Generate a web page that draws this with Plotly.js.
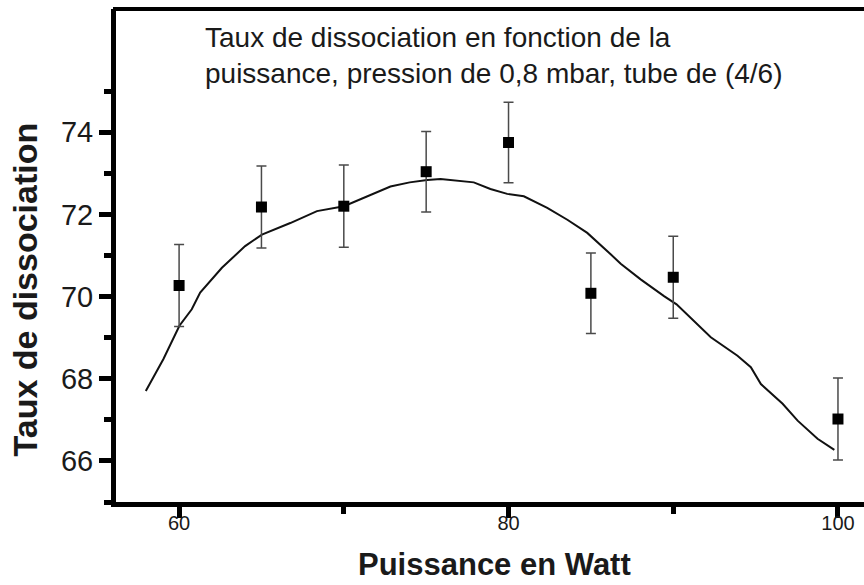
<!DOCTYPE html>
<html>
<head>
<meta charset="utf-8">
<script src="https://cdn.plot.ly/plotly-3.0.1.min.js"></script>
<style>html,body{margin:0;padding:0;background:#fff;}#chart{width:864px;height:585px;}</style>
</head>
<body>
<div id="chart"></div>
<script>
// Measured points (power in W, dissociation rate)
var powerW = [60, 65, 70, 75, 80, 85, 90, 100];
var tauxDissociation = [70.27, 72.18, 72.2, 73.04, 73.75, 70.08, 70.47, 67.02];
var errTaux = [1.0, 1.0, 1.0, 0.98, 0.98, 0.98, 1.0, 1.0];

// Fitted curve
var fitX = [57.98, 59.05, 60.02, 60.77, 61.28, 62.6, 64.01, 65.03, 66.75, 68.37, 70.01, 71.2, 72.83, 74.0, 75.06, 75.87, 77.89, 78.9, 79.92, 80.93, 82.35, 83.57, 84.78, 86.2, 86.81, 88.02, 88.83, 89.44, 90.2, 91.67, 92.28, 93.9, 94.71, 95.32, 96.64, 97.55, 98.76, 99.78];
var fitY = [67.70, 68.48, 69.29, 69.69, 70.10, 70.70, 71.23, 71.51, 71.79, 72.08, 72.20, 72.40, 72.68, 72.78, 72.84, 72.86, 72.78, 72.62, 72.50, 72.44, 72.16, 71.87, 71.55, 71.03, 70.80, 70.42, 70.18, 70.01, 69.81, 69.25, 69.01, 68.56, 68.28, 67.87, 67.39, 66.98, 66.54, 66.27];

// Axis ticks
var xMajorTicks = [60, 80, 100];
var xMinorTicks = [70, 90];
var yMajorTicks = [66, 68, 70, 72, 74];
var yMinorTicks = [65, 67, 69, 71, 73, 75];

var titleText = "Taux de dissociation en fonction de la<br>puissance, pression de 0,8 mbar, tube de (4/6)";
var xTitle = "Puissance en Watt";
var yTitle = "Taux de dissociation";

var FONT = "Liberation Sans, Arial, Helvetica, sans-serif";

var traces = [
  {
    x: fitX, y: fitY, type: "scatter", mode: "lines",
    line: {color: "#111", width: 2}, hoverinfo: "skip", showlegend: false
  },
  {
    x: powerW, y: tauxDissociation, type: "scatter", mode: "markers",
    marker: {symbol: "square", size: 11, color: "#000"},
    error_y: {type: "data", array: errTaux, visible: true, color: "#4a4a4a", thickness: 1.5, width: 5},
    showlegend: false
  }
];

var layout = {
  width: 864, height: 585,
  margin: {l: 116, r: 0, t: 9, b: 83, pad: 0},
  paper_bgcolor: "#fff", plot_bgcolor: "#fff",
  font: {family: FONT, color: "#1a1a1a"},
  showlegend: false,
  xaxis: {
    range: [56.17, 101.58], showgrid: false, zeroline: false,
    showline: true, linecolor: "#000", linewidth: 5,
    ticks: "outside", tickmode: "array", tickvals: xMajorTicks,
    ticklen: 11, tickwidth: 5, tickcolor: "#000", ticklabelstandoff: -12,
    tickfont: {size: 20, family: FONT, color: "#1a1a1a"},
    minor: {tickmode: "array", tickvals: xMinorTicks, ticks: "outside", ticklen: 7, tickwidth: 5, tickcolor: "#000", showgrid: false}
  },
  yaxis: {
    range: [65, 77], showgrid: false, zeroline: false,
    showline: true, linecolor: "#000", linewidth: 5,
    ticks: "outside", tickmode: "array", tickvals: yMajorTicks,
    ticklen: 12, tickwidth: 5, tickcolor: "#000",
    tickfont: {size: 29, family: FONT, color: "#1a1a1a"},
    minor: {tickmode: "array", tickvals: yMinorTicks, ticks: "outside", ticklen: 7, tickwidth: 5, tickcolor: "#000", showgrid: false}
  },
  shapes: [
    {type: "line", xref: "paper", yref: "paper", x0: -0.004, x1: 1, y0: 1, y1: 1, line: {color: "#000", width: 4}}
  ],
  annotations: [
    {text: titleText, xref: "paper", yref: "paper", x: 0.1163, y: 0.977, xanchor: "left", yanchor: "top",
     align: "left", showarrow: false, font: {size: 28, family: FONT, color: "#1a1a1a"}},
    {text: "<b>" + yTitle + "</b>", xref: "paper", yref: "paper", x: -0.121, y: 0.432, xanchor: "center", yanchor: "middle",
     textangle: -90, showarrow: false, font: {size: 34, family: FONT, color: "#1a1a1a"}},
    {text: "<b>" + xTitle + "</b>", xref: "paper", yref: "paper", x: 0.506, y: -0.166, xanchor: "center", yanchor: "bottom",
     showarrow: false, font: {size: 31, family: FONT, color: "#1a1a1a"}}
  ]
};

Plotly.newPlot("chart", traces, layout, {displayModeBar: false, staticPlot: true});
</script>
</body>
</html>
